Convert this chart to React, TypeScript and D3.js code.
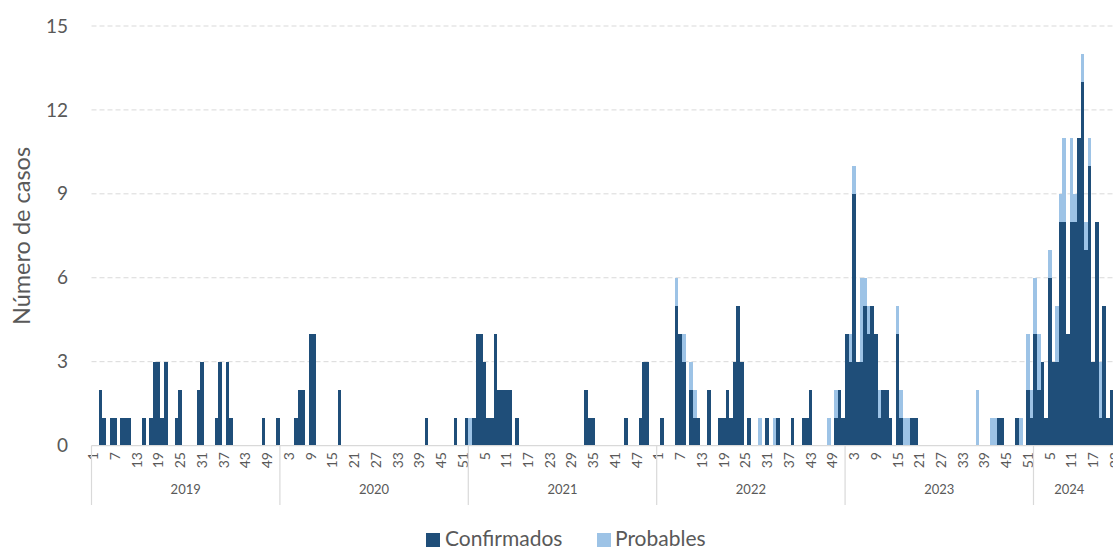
import React from "react";
import * as d3 from "d3";

const years = ["2019", "2020", "2021", "2022", "2023", "2024"];
const weeksShown = [52, 52, 52, 52, 52, 24];

const confirmed2019 = [0,0,2,1,0,1,1,0,1,1, 1,0,0,0,1,0,1,3,3,1, 3,0,0,1,2,0,0,0,0,2, 3,0,0,0,1,3,0,3,1,0, 0,0,0,0,0,0,0,1,0,0, 0,1];
const probable2019 = new Array(52).fill(0);

const confirmed2020 = [0,0,0,0,1,2,2,0,4,4, 0,0,0,0,0,0,2,0,0,0, 0,0,0,0,0,0,0,0,0,0, 0,0,0,0,0,0,0,0,0,0, 1,0,0,0,0,0,0,0,1,0, 0,1];
const probable2020 = new Array(52).fill(0);

const confirmed2021 = [0,1,4,4,3,1,1,4,2,2, 2,2,0,1,0,0,0,0,0,0, 0,0,0,0,0,0,0,0,0,0, 0,0,2,1,1,0,0,0,0,0, 0,0,0,1,0,0,0,1,3,3, 0,0];
const probable2021 = [1,0,0,0,0,0,0,0,0,0, 0,0,0,0,0,0,0,0,0,0, 0,0,0,0,0,0,0,0,0,0, 0,0,0,0,0,0,0,0,0,0, 0,0,0,0,0,0,0,0,0,0, 0,0];

const confirmed2022 = [0,1,0,0,0,5,4,3,0,2, 1,1,0,0,2,0,0,1,1,2, 1,3,5,3,0,1,0,0,0,0, 1,0,0,1,0,0,0,1,0,0, 1,1,2,0,0,0,0,0,0,1, 2,1];
const probable2022 = [0,0,0,0,0,1,0,1,0,1, 1,0,0,0,0,0,0,0,0,0, 0,0,0,0,0,0,0,0,1,0, 0,0,1,0,0,0,0,0,0,0, 0,0,0,0,0,0,0,1,0,1, 0,0];

const confirmed2023 = [4,3,9,3,3,5,4,5,4,1, 2,2,1,0,4,1,0,0,1,1, 0,0,0,0,0,0,0,0,0,0, 0,0,0,0,0,0,0,0,0,0, 0,0,1,1,0,0,0,1,0,0, 2,1];
const probable2023 = [0,1,1,0,3,1,1,0,0,1, 0,0,0,0,1,1,1,1,0,0, 0,0,0,0,0,0,0,0,0,0, 0,0,0,0,0,0,2,0,0,0, 1,1,0,0,0,0,0,0,1,0, 2,1];

const confirmed2024 = [4,2,3,1,6,3,3,8,8,4, 8,8,11,13,7,10,3,8,1,5, 1,2];
const probable2024 = [2,2,0,0,1,0,2,1,3,0, 3,1,0,1,1,1,0,0,2,0, 0,0];

const confirmedByYear = [confirmed2019, confirmed2020, confirmed2021, confirmed2022, confirmed2023, confirmed2024];
const probableByYear = [probable2019, probable2020, probable2021, probable2022, probable2023, probable2024];

const yTicks = [0, 3, 6, 9, 12, 15];
const seriesNames = ["Confirmados", "Probables"];

const DARK = "#1F4E79";
const LIGHT = "#9DC3E6";
const TEXT = "#595959";
const GRID = "#d9d9d9";
const FONT = "Lato, 'Open Sans', sans-serif";

type Row = { key: string; year: number; week: number; c: number; p: number; idx: number };

export default function App() {
  const W = 1113;
  const H = 551;
  const rows: Row[] = [];
  years.forEach((yr, yi) => {
    for (let w = 1; w <= weeksShown[yi]; w++) {
      rows.push({
        key: `${yr}-${w}`,
        year: yi,
        week: w,
        c: confirmedByYear[yi][w - 1] ?? 0,
        p: probableByYear[yi][w - 1] ?? 0,
        idx: rows.length,
      });
    }
  });
  const step = 3.623;
  const x0 = 91.5;
  const x = d3
    .scaleBand<string>()
    .domain(rows.map((r) => r.key))
    .range([x0, x0 + rows.length * step])
    .paddingInner(0)
    .paddingOuter(0);
  const y = d3.scaleLinear().domain([0, 15]).range([445.6, 26]);
  const bw = x.bandwidth();

  const yearStarts: number[] = [];
  let acc = 0;
  weeksShown.forEach((n) => {
    yearStarts.push(acc);
    acc += n;
  });

  return (
    <div style={{ position: "absolute", left: 0, top: 0 }}>
      <svg width={W} height={H} style={{ display: "block", background: "#fff" }}>
        {/* gridlines */}
        {yTicks.filter((t) => t > 0).map((t) => (
          <line key={t} x1={x0} x2={W} y1={y(t)} y2={y(t)} stroke={GRID} strokeWidth={1} strokeDasharray="5,3" />
        ))}
        {/* y tick labels */}
        {yTicks.map((t) => (
          <text key={t} x={68} y={y(t)} dy="0.35em" textAnchor="end" fontSize={19} fill={TEXT} fontFamily={FONT}>
            {t}
          </text>
        ))}
        {/* y axis title */}
        <text
          transform={`translate(30,${236}) rotate(-90)`}
          textAnchor="middle"
          fontSize={23.5}
          fill={TEXT}
          fontFamily={FONT}
        >
          Número de casos
        </text>
        {/* bars */}
        <g shapeRendering="crispEdges">
          {rows.map((r) => (
            <g key={r.key}>
              {r.c > 0 && (
                <rect x={x(r.key)} y={y(r.c)} width={bw} height={y(0) - y(r.c)} fill={DARK} />
              )}
              {r.p > 0 && (
                <rect x={x(r.key)} y={y(r.c + r.p)} width={bw} height={y(r.c) - y(r.c + r.p)} fill={LIGHT} />
              )}
            </g>
          ))}
        </g>
        {/* x axis line */}
        <line x1={x0} x2={W} y1={y(0)} y2={y(0)} stroke={GRID} strokeWidth={1.2} />
        {/* week labels */}
        {rows
          .filter((r) => r.idx % 6 === 0)
          .map((r) => (
            <text
              key={r.key}
              transform={`translate(${(x(r.key) ?? 0) + bw / 2},${452}) rotate(-90)`}
              textAnchor="end"
              dy="0.35em"
              fontSize={14}
              fill={TEXT}
              fontFamily={FONT}
            >
              {r.week}
            </text>
          ))}
        {/* year separators */}
        {yearStarts.map((s, i) => (
          <line
            key={i}
            x1={x(rows[s].key)}
            x2={x(rows[s].key)}
            y1={y(0)}
            y2={505}
            stroke={GRID}
            strokeWidth={1.2}
          />
        ))}
        {/* year labels */}
        {years.map((yr, i) => {
          const start = x(rows[yearStarts[i]].key) ?? 0;
          const end = Math.min(start + weeksShown[i] * step, W);
          const cx = i === years.length - 1 ? (start + end) / 2 - 4 : (start + end) / 2;
          return (
            <text key={yr} x={cx} y={494} textAnchor="middle" fontSize={13} fill={TEXT} fontFamily={FONT}>
              {yr}
            </text>
          );
        })}
        {/* legend */}
        <rect x={426} y={533} width={14} height={14} fill={DARK} />
        <text x={445} y={539} dy="0.35em" fontSize={21} fill={TEXT} fontFamily={FONT}>
          {seriesNames[0]}
        </text>
        <rect x={597} y={533} width={14} height={14} fill={LIGHT} />
        <text x={615} y={539} dy="0.35em" fontSize={21} fill={TEXT} fontFamily={FONT}>
          {seriesNames[1]}
        </text>
      </svg>
    </div>
  );
}
